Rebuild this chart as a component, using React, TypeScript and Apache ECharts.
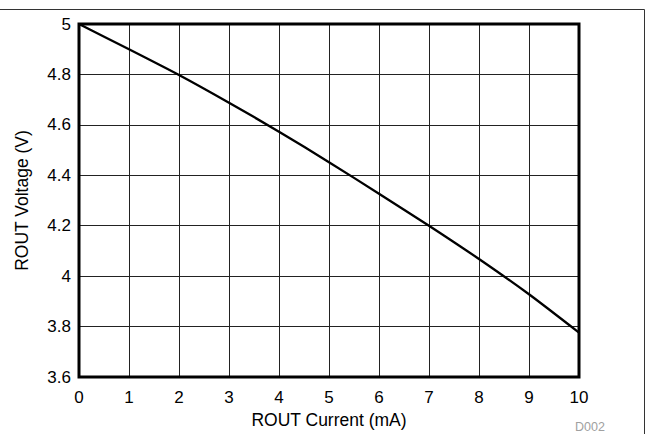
import React, { useEffect, useRef } from "react";
import * as echarts from "echarts";

const currentMA: number[] = [0, 1, 2, 3, 4, 5, 6, 7, 8, 9, 10];
const voltageV: number[] = [5.0, 4.9, 4.798, 4.688, 4.573, 4.452, 4.327, 4.2, 4.068, 3.928, 3.776];
const xTitle = "ROUT Current (mA)";
const yTitle = "ROUT Voltage (V)";
const figId = "D002";

export default function App() {
  const ref = useRef<HTMLDivElement>(null);
  useEffect(() => {
    if (!ref.current) return;
    const chart = echarts.init(ref.current, null, { renderer: "svg" });
    const font = "Liberation Sans, Arial, sans-serif";
    chart.setOption({
      animation: false,
      backgroundColor: "#fff",
      grid: { left: 79, top: 24, right: 67, bottom: 57 },
      xAxis: {
        type: "value",
        min: 0,
        max: 10,
        interval: 1,
        name: xTitle,
        nameLocation: "middle",
        nameGap: 30,
        nameTextStyle: { fontFamily: font, fontSize: 17.5, color: "#000" },
        axisLine: { show: false },
        axisTick: { show: false },
        axisLabel: { fontFamily: font, fontSize: 17, color: "#000", margin: 12 },
        splitLine: { show: true, lineStyle: { color: "#222", width: 1 } },
      },
      yAxis: {
        type: "value",
        min: 3.6,
        max: 5,
        interval: 0.2,
        name: yTitle,
        nameLocation: "middle",
        nameGap: 48,
        nameTextStyle: { fontFamily: font, fontSize: 17.5, color: "#000" },
        axisLine: { show: false },
        axisTick: { show: false },
        axisLabel: {
          fontFamily: font,
          fontSize: 17,
          color: "#000",
          margin: 8,
          formatter: (v: number) => String(parseFloat(v.toFixed(2))),
        },
        splitLine: { show: true, lineStyle: { color: "#222", width: 1 } },
      },
      graphic: [
        {
          type: "rect",
          shape: { x: 79, y: 24, width: 500, height: 353 },
          style: { fill: "none", stroke: "#000", lineWidth: 3 },
          z: 10,
        },
        {
          type: "polyline",
          shape: { points: [[0, 9.5], [644.5, 9.5], [644.5, 434]] },
          style: { fill: "none", stroke: "#333", lineWidth: 1 },
        },
        {
          type: "text",
          x: 590,
          y: 427,
          style: {
            text: figId,
            fontFamily: font,
            fontSize: 12.5,
            fill: "#a0a0a0",
            align: "center",
            verticalAlign: "middle",
          },
        },
      ],
      series: [
        {
          type: "line",
          data: currentMA.map((x, i) => [x, voltageV[i]]),
          showSymbol: false,
          smooth: 0.2,
          lineStyle: { color: "#000", width: 2.3 },
          z: 5,
        },
      ],
    });
    return () => chart.dispose();
  }, []);
  return (
    <div
      ref={ref}
      style={{ position: "fixed", left: 0, top: 0, width: 646, height: 434 }}
    />
  );
}
